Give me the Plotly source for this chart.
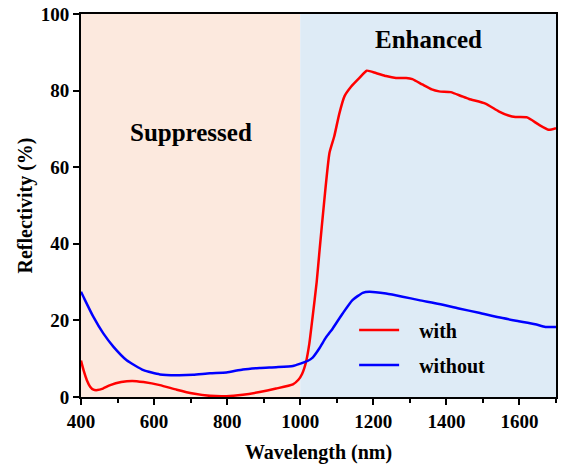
import plotly.graph_objects as go

# Reflectivity spectra (wavelength in nm, reflectivity in %)
with_wl = [400, 407, 416, 425, 434, 445, 460, 480, 510, 540, 571, 616, 662, 707, 753,
           798, 843, 889, 934, 980, 995, 1005, 1016, 1025, 1034, 1045, 1053, 1066,
           1080, 1093, 1107, 1121, 1139, 1162, 1182, 1207, 1235, 1262, 1290, 1307,
           1334, 1360, 1380, 1412, 1440, 1462, 1507, 1543, 1570, 1589, 1621, 1653,
           1680, 1700]
with_refl = [9.5, 7.0, 4.4, 2.7, 1.9, 1.8, 2.2, 3.1, 3.9, 4.2, 3.9, 3.1, 1.9, 0.9, 0.3,
             0.2, 0.6, 1.3, 2.2, 3.3, 4.5, 6.0, 9.2, 14.0, 21.0, 30.0, 38.4, 51.5,
             63.7, 68.0, 74.0, 78.5, 81.0, 83.3, 85.2, 84.6, 83.8, 83.3, 83.3, 83.0,
             81.6, 80.3, 79.8, 79.6, 78.6, 77.8, 76.6, 74.6, 73.5, 73.1, 73.0, 71.1,
             69.8, 70.2]

without_wl = [400, 410, 434, 461, 489, 525, 571, 616, 662, 707, 753, 798, 843, 889, 934,
              980, 1000, 1020, 1034, 1053, 1070, 1089, 1116, 1143, 1171, 1189, 1235,
              1280, 1325, 1380, 1434, 1489, 1543, 1598, 1643, 1671, 1700]
without_refl = [27.5, 25.5, 20.9, 16.6, 13.1, 9.6, 7.0, 5.9, 5.7, 5.8, 6.2, 6.4, 7.2,
                7.6, 7.8, 8.1, 8.7, 9.4, 10.3, 12.8, 15.5, 17.9, 21.8, 25.3, 27.2, 27.5,
                27.0, 26.2, 25.3, 24.3, 23.1, 22.0, 20.8, 19.8, 19.0, 18.3, 18.3]

# Spectral regions
suppressed_range = [400, 1000]
enhanced_range = [1000, 1700]
x_ticks = [400, 600, 800, 1000, 1200, 1400, 1600]
y_ticks = [0, 20, 40, 60, 80, 100]

FONT = "Liberation Serif"
PAD = "&nbsp;&nbsp;&nbsp;"

fig = go.Figure()
fig.add_trace(go.Scatter(x=with_wl, y=with_refl, mode="lines", name=f"{PAD}<b>with</b>",
                         legendgroup="a",
                         line=dict(color="#ff0000", width=2.5, shape="spline", smoothing=0.5)))
fig.add_trace(go.Scatter(x=without_wl, y=without_refl, mode="lines", name=f"{PAD}<b>without</b>",
                         legendgroup="b",
                         line=dict(color="#0000ff", width=2.5, shape="spline", smoothing=0.5)))

fig.add_shape(type="rect", xref="x", yref="paper", x0=suppressed_range[0], x1=suppressed_range[1],
              y0=0, y1=1, fillcolor="#fce9de", line_width=0, layer="below")
fig.add_shape(type="rect", xref="x", yref="paper", x0=enhanced_range[0], x1=enhanced_range[1],
              y0=0, y1=1, fillcolor="#deebf6", line_width=0, layer="below")

fig.add_annotation(x=700, y=69, xref="x", yref="y", text="<b>Suppressed</b>",
                   showarrow=False, font=dict(family=FONT, size=25, color="black"))
fig.add_annotation(x=1350, y=93.3, xref="x", yref="y", text="<b>Enhanced</b>",
                   showarrow=False, font=dict(family=FONT, size=25, color="black"))

axis_common = dict(showline=True, linecolor="black", linewidth=2, mirror=True,
                   ticks="outside", tickwidth=2, tickcolor="black", ticklen=6,
                   showgrid=False, zeroline=False,
                   tickfont=dict(family=FONT, size=19, color="black"))

fig.update_xaxes(range=[400, 1700], tickvals=x_ticks,
                 ticktext=[f"<b>{v}</b>" for v in x_ticks],
                 minor=dict(dtick=100, tick0=400, ticks="outside", ticklen=4, tickwidth=2,
                            tickcolor="black", showgrid=False),
                 title=dict(text="<b>Wavelength (nm)</b>", font=dict(family=FONT, size=20, color="black"),
                            standoff=14),
                 **axis_common)
fig.update_yaxes(range=[0, 100], tickvals=y_ticks,
                 ticktext=[f"<b>{v}</b>" for v in y_ticks],
                 title=dict(text="<b>Reflectivity (%)</b>", font=dict(family=FONT, size=20, color="black"),
                            standoff=3),
                 **axis_common)

fig.update_layout(
    width=561, height=466,
    margin=dict(l=81, r=3, t=14, b=69),
    plot_bgcolor="white", paper_bgcolor="white",
    legend=dict(x=0.575, y=0.226, xanchor="left", yanchor="top",
                bgcolor="rgba(0,0,0,0)", borderwidth=0,
                font=dict(family=FONT, size=20, color="black"),
                tracegroupgap=6, itemwidth=40,
                traceorder="grouped"),
)

fig.write_html("out.html")
